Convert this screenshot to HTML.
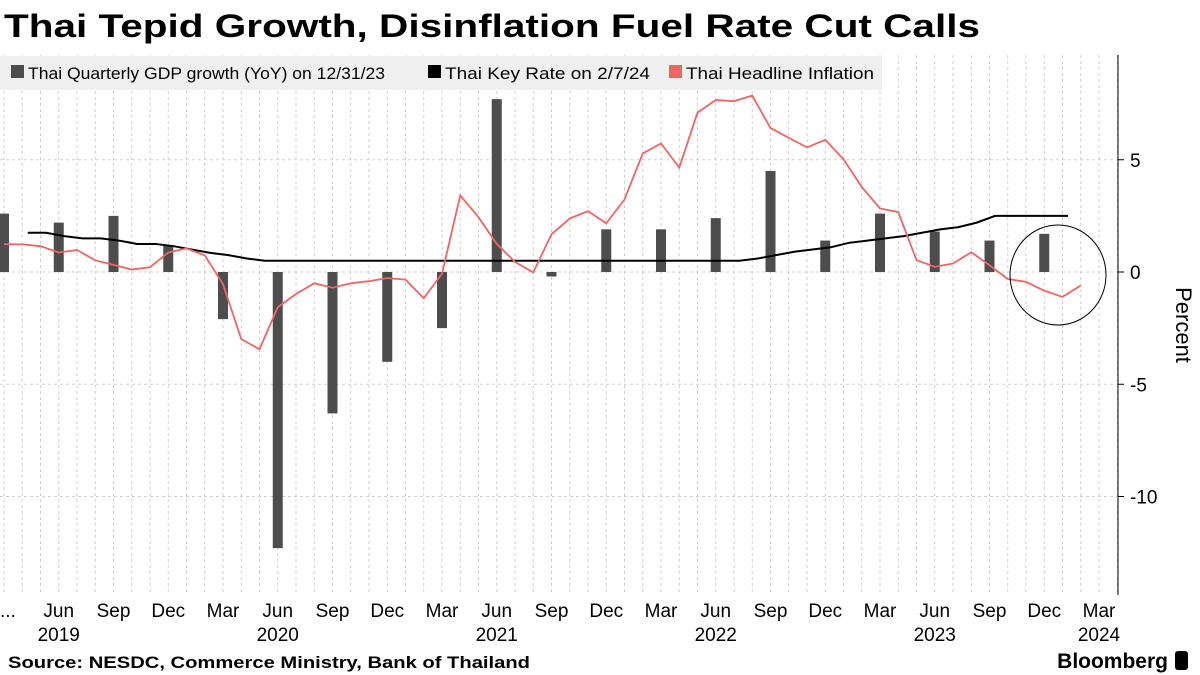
<!DOCTYPE html>
<html><head><meta charset="utf-8">
<style>
body{margin:0;background:#fff;font-family:"Liberation Sans",sans-serif;}
#wrap{position:relative;width:1200px;height:675px;overflow:hidden;}
</style></head>
<body>
<div id="wrap">
<svg id="chart" width="1200" height="675" xmlns="http://www.w3.org/2000/svg">
<text x="4" y="37" font-size="32" font-weight="bold" fill="#000" textLength="976" lengthAdjust="spacingAndGlyphs" font-family="Liberation Sans, sans-serif">Thai Tepid Growth, Disinflation Fuel Rate Cut Calls</text>
<g id="grid"></g>
<rect x="0" y="56" width="882" height="34" fill="#efefef"/>
<g font-size="17" fill="#000" font-family="Liberation Sans, sans-serif">
<g><rect x="11" y="65" width="13" height="13" fill="#4d4d4d"/><text x="28" y="79" textLength="357" lengthAdjust="spacingAndGlyphs">Thai Quarterly GDP growth (YoY) on 12/31/23</text></g>
<g><rect x="428" y="65" width="13" height="13" fill="#000"/><text x="445" y="79" textLength="205" lengthAdjust="spacingAndGlyphs">Thai Key Rate on 2/7/24</text></g>
<g><rect x="669" y="65" width="13" height="13" fill="#f06464"/><text x="686" y="79" textLength="188" lengthAdjust="spacingAndGlyphs">Thai Headline Inflation</text></g>
</g>
<g id="bars"></g>
<g id="lines"></g>
<ellipse cx="1058" cy="275" rx="48" ry="50" fill="none" stroke="#000" stroke-width="1"/>
<line x1="1118" y1="55" x2="1118" y2="595" stroke="#000" stroke-width="1"/>
<g id="yaxis"></g>
<g id="xaxis"></g>
<text transform="translate(1176,325) rotate(90)" text-anchor="middle" font-size="22" fill="#000">Percent</text>
<text x="8" y="668" font-size="17" font-weight="bold" fill="#000" textLength="522" lengthAdjust="spacingAndGlyphs">Source: NESDC, Commerce Ministry, Bank of Thailand</text>
<text x="1168" y="668" font-size="21" font-weight="bold" fill="#000" text-anchor="end">Bloomberg</text>
<rect x="1175" y="651" width="13" height="19" rx="3" fill="#000"/>
</svg>
</div>
<script>
// months indexed from Mar 2019 = 0
const inflation = [1.24,1.23,1.15,0.87,0.98,0.52,0.32,0.11,0.21,0.87,1.05,0.74,-0.54,-2.99,-3.44,-1.57,-0.98,-0.5,-0.7,-0.5,-0.41,-0.27,-0.34,-1.17,-0.08,3.41,2.44,1.25,0.45,-0.02,1.68,2.38,2.71,2.17,3.23,5.28,5.73,4.65,7.1,7.66,7.61,7.86,6.41,5.98,5.55,5.89,5.02,3.79,2.83,2.67,0.53,0.23,0.38,0.88,0.3,-0.31,-0.44,-0.83,-1.11,-0.6];
const gdpQuarters = [0,3,6,9,12,15,18,21,24,27,30,33,36,39,42,45,48,51,54,57];
const gdpValues = [2.6,2.2,2.5,1.2,-2.1,-12.3,-6.3,-4.0,-2.5,7.7,-0.2,1.9,1.9,2.4,4.5,1.4,2.6,1.8,1.4,1.7];
const keyRateStart = 1.3;
const keyRate = [1.75,1.75,1.6,1.5,1.5,1.4,1.25,1.25,1.15,1.0,0.85,0.75,0.6,0.5,0.5,0.5,0.5,0.5,0.5,0.5,0.5,0.5,0.5,0.5,0.5,0.5,0.5,0.5,0.5,0.5,0.5,0.5,0.5,0.5,0.5,0.5,0.5,0.5,0.5,0.5,0.6,0.75,0.9,1.0,1.1,1.3,1.4,1.5,1.6,1.75,1.9,2.0,2.2,2.5,2.5,2.5,2.5,2.5];
const yTicks = [5,0,-5,-10];
const xTickMonths = [3,6,9,12,15,18,21,24,27,30,33,36,39,42,45,48,51,54,57,60];
const xTickLabels = ["Jun","Sep","Dec","Mar","Jun","Sep","Dec","Mar","Jun","Sep","Dec","Mar","Jun","Sep","Dec","Mar","Jun","Sep","Dec","Mar"];
const yearMonths = [3,15,27,39,51,60];
const yearLabels = ["2019","2020","2021","2022","2023","2024"];

const NS="http://www.w3.org/2000/svg";
function X(m){return 4+m*18.25;}
function Y(v){return 272-22.45*v;}
function mk(tag,attrs,parent){const e=document.createElementNS(NS,tag);for(const k in attrs)e.setAttribute(k,attrs[k]);parent.appendChild(e);return e;}
const grid=document.getElementById('grid'),bars=document.getElementById('bars'),lines=document.getElementById('lines'),ya=document.getElementById('yaxis'),xa=document.getElementById('xaxis');
for(let m=0;m<=61;m++){
  const l=mk('line',{x1:X(m),x2:X(m),y1:55,y2:595,stroke:'#cfcfcf','stroke-width':1,'stroke-dasharray':'3,3'},grid);
  
  
}
yTicks.forEach(t=>{
  const g=mk('line',{x1:0,x2:1118,y1:Y(t),y2:Y(t),stroke:'#cfcfcf','stroke-width':1,'stroke-dasharray':'3,3'},grid);
  
  
  const tk=mk('line',{x1:1118,x2:1124,y1:Y(t),y2:Y(t),stroke:'#000'},ya);
  
  
  const tx=mk('text',{x:1130,y:Y(t)+7,'font-size':19,fill:'#000'},ya);
  tx.textContent=t<0?'-'+Math.abs(t):String(t);
  
  
});
gdpQuarters.forEach((m,i)=>{
  const v=gdpValues[i];
  const r=mk('rect',{x:X(m)-5,y:Math.min(Y(v),Y(0)),width:10,height:Math.abs(Y(v)-Y(0)),fill:'#4d4d4d'},bars);
  
  
});
const kr=mk('polyline',{points:keyRate.map((v,i)=>X(keyRateStart+i)+','+Y(v)).join(' '),fill:'none',stroke:'#000','stroke-width':2},lines);


const inf=mk('polyline',{points:inflation.map((v,i)=>X(i)+','+Y(v)).join(' '),fill:'none',stroke:'#f06464','stroke-width':1.8},lines);


const dots=mk('text',{x:0,y:617,'font-size':19,fill:'#000'},xa);
dots.textContent='...';


xTickMonths.forEach((m,i)=>{
  const t=mk('text',{x:X(m),y:617,'font-size':19,fill:'#000','text-anchor':'middle'},xa);
  t.textContent=xTickLabels[i];
  
  
});
yearMonths.forEach((m,i)=>{
  const t=mk('text',{x:X(m),y:641,'font-size':19,fill:'#000','text-anchor':'middle'},xa);
  t.textContent=yearLabels[i];
  
  
});
</script>
</body></html>
